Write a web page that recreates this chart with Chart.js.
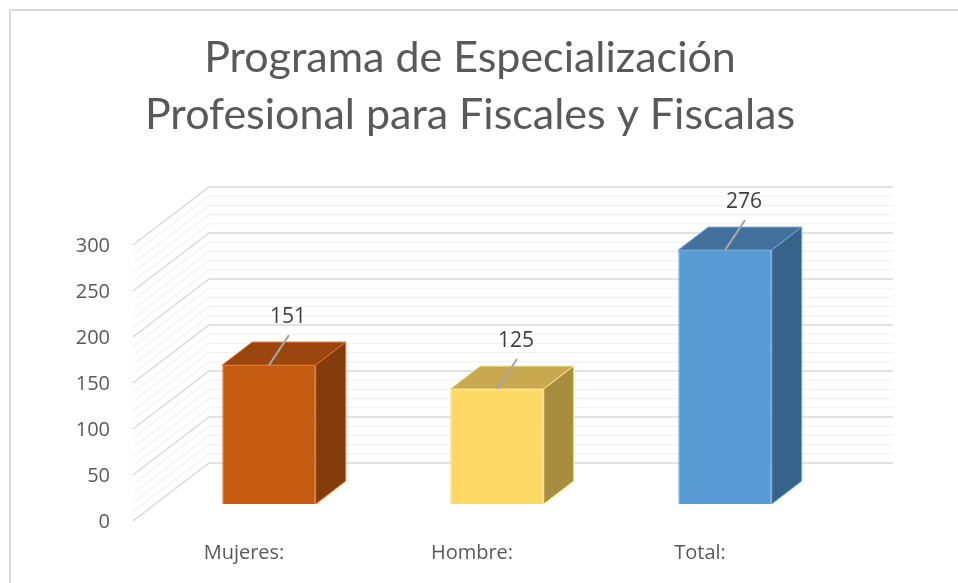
<!DOCTYPE html>
<html>
<head>
<meta charset="utf-8">
<script src="https://cdn.jsdelivr.net/npm/chart.js@4.4.0/dist/chart.umd.min.js"></script>
<style>
  html, body { margin: 0; padding: 0; background: #fff; }
  canvas { display: block; }
</style>
</head>
<body>
<canvas id="chart" width="958" height="583"></canvas>
<script>
const titleLines = ["Programa de Especialización", "Profesional para Fiscales y Fiscalas"];
const categories = ["Mujeres:", "Hombre:", "Total:"];
const values = [151, 125, 276];
const yTicks = [0, 50, 100, 150, 200, 250, 300];

const frontColors = ["#C55A11", "#FFD966", "#5B9BD5"];
const topColors = ["#9A460E", "#C8A94F", "#41719C"];
const sideColors = ["#843C0C", "#A68D40", "#37628A"];
const edgeColors = ["#E0752A", "#FFE68A", "#74A9DA"];

const FONT = "'Open Sans', 'Liberation Sans', sans-serif";
const TITLE_FONT = "Lato, 'Open Sans', sans-serif";

// 3D offsets (px) relative to the plane of the bar fronts
const BAR_DX = 30, BAR_DY = -23;
const FRONT_DX = -22, FRONT_DY = 17;
const BACK_DX = 54, BACK_DY = -41;

const fake3d = {
  id: "fake3d",
  beforeDraw(chart) {
    const ctx = chart.ctx;
    ctx.save();
    ctx.fillStyle = "#fff";
    ctx.fillRect(0, 0, chart.width, chart.height);
    ctx.strokeStyle = "#d9d9d9";
    ctx.lineWidth = 2;
    ctx.strokeRect(10, 10, 1200, 1200);

    // title
    ctx.fillStyle = "#595959";
    ctx.font = "400 43px " + TITLE_FONT;
    ctx.textAlign = "center";
    ctx.textBaseline = "middle";
    titleLines.forEach((t, i) => ctx.fillText(t, 470, 58 + i * 57));
    ctx.restore();
  },
  beforeDatasetsDraw(chart) {
    const ctx = chart.ctx;
    const y = chart.scales.y;
    const area = chart.chartArea;
    ctx.save();
    // minor and major gridlines on side wall and back wall
    for (let v = y.min; v <= y.max; v += 10) {
      const py = y.getPixelForValue(v);
      const major = v % 50 === 0;
      ctx.strokeStyle = major ? "#d9d9d9" : "#efefef";
      ctx.lineWidth = major ? 1.5 : 1;
      ctx.beginPath();
      ctx.moveTo(area.left + FRONT_DX, py + FRONT_DY);
      ctx.lineTo(area.left + BACK_DX, py + BACK_DY);
      ctx.lineTo(area.right + BACK_DX, py + BACK_DY);
      ctx.stroke();
    }
    // y tick labels at the front edge
    ctx.fillStyle = "#595959";
    ctx.font = "20px " + FONT;
    ctx.textAlign = "right";
    ctx.textBaseline = "middle";
    yTicks.forEach(v => {
      ctx.fillText(String(v), 110, y.getPixelForValue(v) + FRONT_DY + 1);
    });
    ctx.restore();
  },
  afterDatasetsDraw(chart) {
    const ctx = chart.ctx;
    const meta = chart.getDatasetMeta(0);
    ctx.save();
    meta.data.forEach((bar, i) => {
      const w = bar.width;
      const l = bar.x - w / 2, r = bar.x + w / 2;
      const top = bar.y, base = bar.base;
      ctx.lineWidth = 1;
      ctx.strokeStyle = edgeColors[i];
      // top face
      ctx.fillStyle = topColors[i];
      ctx.beginPath();
      ctx.moveTo(l, top);
      ctx.lineTo(r, top);
      ctx.lineTo(r + BAR_DX, top + BAR_DY);
      ctx.lineTo(l + BAR_DX, top + BAR_DY);
      ctx.closePath();
      ctx.fill();
      ctx.stroke();
      // side face
      ctx.fillStyle = sideColors[i];
      ctx.beginPath();
      ctx.moveTo(r, top);
      ctx.lineTo(r + BAR_DX, top + BAR_DY);
      ctx.lineTo(r + BAR_DX, base + BAR_DY);
      ctx.lineTo(r, base);
      ctx.closePath();
      ctx.fill();
      ctx.stroke();

      // leader line + value label
      ctx.strokeStyle = "#a6a6a6";
      ctx.lineWidth = 2;
      ctx.beginPath();
      ctx.moveTo(bar.x, top);
      ctx.lineTo(bar.x + 20, top - 30);
      ctx.stroke();
      ctx.fillStyle = "#404040";
      ctx.font = "21px " + FONT;
      ctx.textAlign = "center";
      ctx.textBaseline = "middle";
      ctx.fillText(String(values[i]), bar.x + 19, top - 48);

      // category label
      ctx.fillStyle = "#595959";
      ctx.font = "20px " + FONT;
      ctx.fillText(categories[i], bar.x - 25, 553);
    });
    ctx.restore();
  }
};

new Chart(document.getElementById("chart"), {
  type: "bar",
  data: {
    labels: categories,
    datasets: [{
      data: values,
      backgroundColor: frontColors,
      borderColor: edgeColors,
      borderWidth: 1,
      categoryPercentage: 1,
      barPercentage: 0.41
    }]
  },
  options: {
    responsive: false,
    animation: false,
    layout: { padding: { left: 155, right: 119, top: 228, bottom: 79 } },
    scales: {
      x: { display: false },
      y: { display: false, min: 0, max: 300 }
    },
    plugins: {
      legend: { display: false },
      tooltip: { enabled: false },
      title: { display: false }
    }
  },
  plugins: [fake3d]
});
</script>
</body>
</html>
